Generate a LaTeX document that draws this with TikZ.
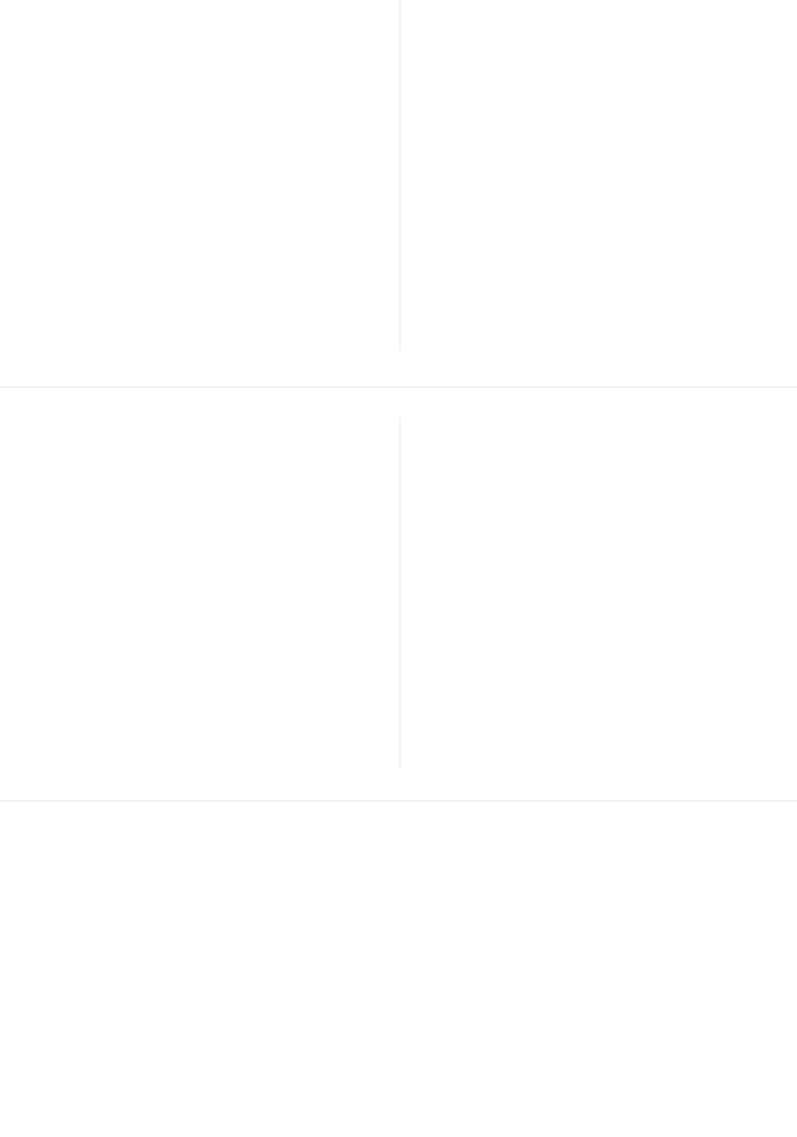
\documentclass[tikz,border=0pt]{standalone}
\usepackage{tikz}

\definecolor{rulegray}{RGB}{243,243,243}

\tikzset{
    divider/.style={draw=rulegray, line width=1.6pt},
    splitter/.style={draw=rulegray, line width=1.3pt}
}

\begin{document}
\begin{tikzpicture}[x=1pt, y=1pt] % page layout
\useasboundingbox (0,0) rectangle (797,1137);
\coordinate (topA) at (400,1137);
\coordinate (topB) at (400,787);
\coordinate (midA) at (400,719);
\coordinate (midB) at (400,369);
\coordinate (cutL) at (0,750);
\coordinate (cutR) at (797,750);
\coordinate (lowL) at (0,336);
\coordinate (lowR) at (797,336);
\draw[splitter] (topA) -- (topB);
\draw[divider] (cutL) -- (cutR);
\draw[splitter] (midA) -- (midB);
\draw[divider] (lowL) -- (lowR);
\end{tikzpicture}
\end{document}
